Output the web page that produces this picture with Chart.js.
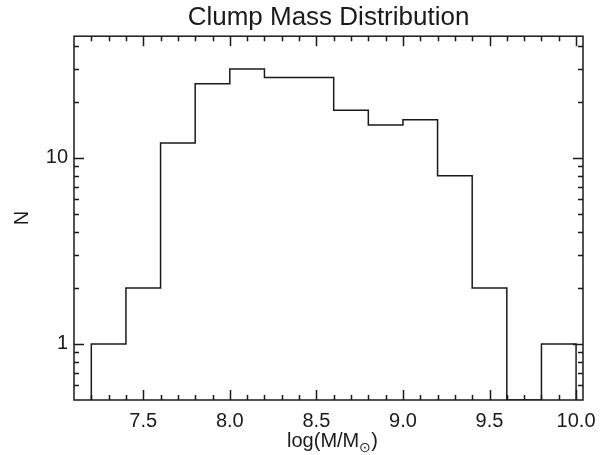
<!DOCTYPE html>
<html lang="en">
<head>
  <meta charset="UTF-8" />
  <title>Clump Mass Distribution</title>
  <script src="https://cdn.jsdelivr.net/npm/chart.js"></script>
  <style>
    body { margin: 0; background: #fff; }
    #wrap { width: 609px; height: 455px; }
  </style>
</head>
<body>
  <div id="wrap"><canvas id="massChart" width="609" height="455"></canvas></div>

  <script>
    // histogram bins (log M/Msun), counts per bin
    const binEdges = [7.2, 7.4, 7.6, 7.8, 8.0, 8.2, 8.4, 8.6, 8.8, 9.0, 9.2, 9.4, 9.6, 9.8, 10.0];
    const counts = [1, 2, 12, 25, 30, 27, 27, 18, 15, 16, 8, 2, 0, 1];

    // axis ranges and ticks
    const xRange = [7.1, 10.04];
    const yRange = [0.5, 45];
    const xTicks = [7.2, 7.3, 7.4, 7.5, 7.6, 7.7, 7.8, 7.9, 8.0, 8.1, 8.2, 8.3, 8.4, 8.5, 8.6, 8.7, 8.8, 8.9,
                    9.0, 9.1, 9.2, 9.3, 9.4, 9.5, 9.6, 9.7, 9.8, 9.9, 10.0];
    const xTickLabels = ['7.5', '8.0', '8.5', '9.0', '9.5', '10.0'];
    const yTicks = [0.6, 0.7, 0.8, 0.9, 1, 2, 3, 4, 5, 6, 7, 8, 9, 10, 20, 30, 40];
    const yTickLabels = ['1', '10'];

    const titleText = 'Clump Mass Distribution';
    const xTitle = ['log(M/M', '\u2299', ')'];
    const yTitle = 'N';

    const FONT = '"Liberation Sans", Arial, Helvetica, sans-serif';
    const INK = '#1a1a1a';

    // step outline: empty bins sit on the axis floor (like IDL clipping)
    const floorY = yRange[0];
    const pts = [{ x: binEdges[0], y: floorY }];
    counts.forEach((c, i) => pts.push({ x: binEdges[i], y: c > 0 ? c : floorY }));
    pts.push({ x: binEdges[binEdges.length - 1], y: counts[counts.length - 1] });
    pts.push({ x: binEdges[binEdges.length - 1], y: floorY });

    const isMajorX = v => xTickLabels.includes(v.toFixed(1));
    const isMajorY = v => yTickLabels.includes(String(v));

    // inward ticks on all four sides + box + x title with subscript
    const frame = {
      id: 'frame',
      afterDraw(chart) {
        const { ctx, chartArea: a, scales } = chart;
        ctx.save();
        ctx.strokeStyle = INK;
        ctx.lineWidth = 1.5;
        ctx.strokeRect(a.left, a.top, a.right - a.left, a.bottom - a.top);
        ctx.beginPath();
        scales.x.ticks.forEach(t => {
          const px = Math.round(scales.x.getPixelForValue(t.value)) + 0.5;
          const len = isMajorX(t.value) ? 10 : 5;
          ctx.moveTo(px, a.bottom); ctx.lineTo(px, a.bottom - len);
          ctx.moveTo(px, a.top); ctx.lineTo(px, a.top + len);
        });
        scales.y.ticks.forEach(t => {
          const py = Math.round(scales.y.getPixelForValue(t.value)) + 0.5;
          const len = isMajorY(t.value) ? 10 : 5;
          ctx.moveTo(a.left, py); ctx.lineTo(a.left + len, py);
          ctx.moveTo(a.right, py); ctx.lineTo(a.right - len, py);
        });
        ctx.stroke();

        // x axis title with sun subscript
        ctx.fillStyle = INK;
        ctx.textBaseline = 'alphabetic';
        ctx.font = '20px ' + FONT;
        const w0 = ctx.measureText(xTitle[0]).width;
        const w2 = ctx.measureText(xTitle[2]).width;
        ctx.font = '14px ' + FONT;
        const w1 = ctx.measureText(xTitle[1]).width;
        const cx = (a.left + a.right) / 2 + 4;
        let x = cx - (w0 + w1 + w2) / 2;
        const base = 447;
        ctx.font = '20px ' + FONT;
        ctx.fillText(xTitle[0], x, base); x += w0;
        ctx.font = '14px ' + FONT;
        ctx.fillText(xTitle[1], x, base + 5); x += w1;
        ctx.font = '20px ' + FONT;
        ctx.fillText(xTitle[2], x, base);
        ctx.restore();
      }
    };

    new Chart(document.getElementById('massChart'), {
      type: 'line',
      data: {
        datasets: [{
          data: pts,
          stepped: 'before',
          borderColor: INK,
          borderWidth: 1.5,
          pointRadius: 0,
          fill: false
        }]
      },
      options: {
        responsive: false,
        animation: false,
        layout: { padding: { left: 0, right: 26, top: 0, bottom: 0 } },
        plugins: {
          legend: { display: false },
          tooltip: { enabled: false },
          title: {
            display: true,
            text: titleText,
            fullSize: false,
            color: INK,
            font: { family: FONT, size: 26, weight: 'normal' },
            padding: { top: 2, bottom: 3 }
          }
        },
        scales: {
          x: {
            type: 'linear',
            min: xRange[0],
            max: xRange[1],
            afterBuildTicks: s => { s.ticks = xTicks.map(v => ({ value: v })); },
            afterFit: s => { s.height = 55; },
            grid: { display: false, drawTicks: false },
            border: { display: false },
            ticks: {
              autoSkip: false,
              maxRotation: 0,
              padding: 9,
              color: INK,
              font: { family: FONT, size: 20 },
              callback: v => isMajorX(v) ? v.toFixed(1) : ''
            }
          },
          y: {
            type: 'logarithmic',
            min: yRange[0],
            max: yRange[1],
            afterBuildTicks: s => { s.ticks = yTicks.map(v => ({ value: v })); },
            afterFit: s => { s.width = 74; },
            grid: { display: false, drawTicks: false },
            border: { display: false },
            ticks: {
              autoSkip: false,
              padding: 6,
              color: INK,
              font: { family: FONT, size: 20 },
              callback: v => isMajorY(v) ? String(v) : ''
            },
            title: {
              display: true,
              text: yTitle,
              color: INK,
              font: { family: FONT, size: 20 },
              padding: { top: 10, bottom: 0 }
            }
          }
        }
      },
      plugins: [frame]
    });
  </script>
</body>
</html>
